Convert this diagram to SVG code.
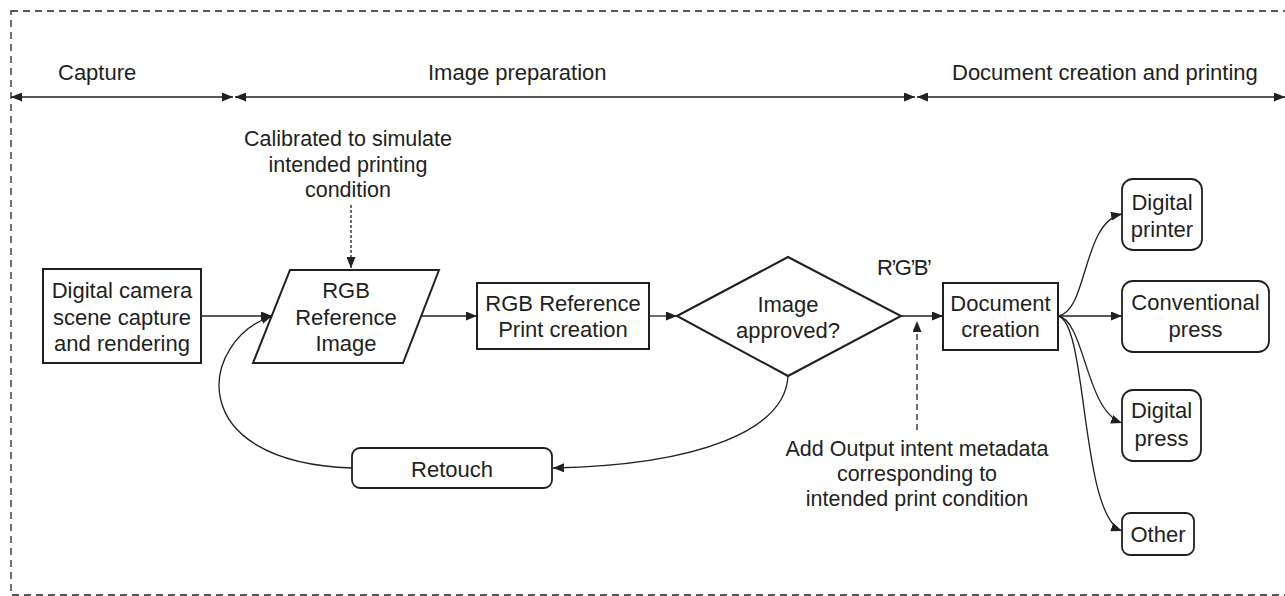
<svg xmlns="http://www.w3.org/2000/svg" width="1285" height="596" viewBox="0 0 1285 596">
  <style>
    text { font-family: "Liberation Sans", Arial, sans-serif; font-size: 22px; fill: #231f20; }
    .c { text-anchor: middle; }
    .note { font-size: 21.5px; }
    .box { fill: #fff; stroke: #231f20; stroke-width: 2; }
    .rbox { fill: #fff; stroke: #231f20; stroke-width: 1.8; }
    .ln { fill: none; stroke: #231f20; stroke-width: 1.3; }
    .dsh { fill: none; stroke: #231f20; stroke-width: 1.3; stroke-dasharray: 6 4; }
    .dsh2 { fill: none; stroke: #231f20; stroke-width: 1.3; stroke-dasharray: 3 2; }
    .frame { fill: none; stroke: #231f20; stroke-width: 1.3; stroke-dasharray: 7 5; }
  </style>
  <defs>
    <marker id="ah" viewBox="0 0 11 9" refX="11" refY="4.5" markerWidth="11" markerHeight="9" orient="auto-start-reverse" markerUnits="userSpaceOnUse">
      <path d="M0,0 L11,4.5 L0,9 z" fill="#231f20"/>
    </marker>
  </defs>

  <rect width="1285" height="596" fill="#fff"/>
  <!-- outer dashed frame -->
  <rect class="frame" x="11" y="11" width="1290" height="584"/>

  <!-- phase timeline -->
  <g id="timeline">
    <line class="ln" x1="11" y1="97" x2="233" y2="97" marker-start="url(#ah)" marker-end="url(#ah)"/>
    <line class="ln" x1="235" y1="97" x2="915" y2="97" marker-start="url(#ah)" marker-end="url(#ah)"/>
    <line class="ln" x1="917" y1="97" x2="1285" y2="97" marker-start="url(#ah)" marker-end="url(#ah)"/>
    <text x="58" y="80">Capture</text>
    <text x="428" y="80">Image preparation</text>
    <text x="952" y="80">Document creation and printing</text>
  </g>

  <!-- connectors -->
  <g id="connectors">
    <line class="ln" x1="201" y1="316" x2="272" y2="316" marker-end="url(#ah)"/>
    <line class="ln" x1="421" y1="316" x2="477" y2="316" marker-end="url(#ah)"/>
    <line class="ln" x1="649" y1="316" x2="677" y2="316" marker-end="url(#ah)"/>
    <line class="ln" x1="901" y1="316" x2="943" y2="316" marker-end="url(#ah)"/>
    <path class="ln" d="M788,376 C785,430 700,465 553,468" marker-end="url(#ah)"/>
    <path class="ln" d="M352,468 C180,462 200,340 272,316" marker-end="url(#ah)"/>
    <path class="ln" d="M1058,316 C1088,312 1082,222 1122,214" marker-end="url(#ah)"/>
    <line class="ln" x1="1058" y1="316" x2="1122" y2="316" marker-end="url(#ah)"/>
    <path class="ln" d="M1058,316 C1085,320 1085,410 1122,423" marker-end="url(#ah)"/>
    <path class="ln" d="M1058,316 C1088,322 1080,515 1122,531" marker-end="url(#ah)"/>
    <line class="dsh2" x1="351" y1="205" x2="351" y2="268" marker-end="url(#ah)"/>
    <line class="dsh" x1="917" y1="430" x2="917" y2="321" marker-end="url(#ah)"/>
  </g>

  <g id="camera">
    <rect class="box" x="43" y="269" width="158" height="94"/>
    <text class="c" x="122" y="298">Digital camera</text>
    <text class="c" x="122" y="325">scene capture</text>
    <text class="c" x="122" y="351">and rendering</text>
  </g>

  <g id="rgb-reference-image">
    <polygon class="box" points="290,270 439,270 403,363 253,363"/>
    <text class="c" x="346" y="298">RGB</text>
    <text class="c" x="346" y="325">Reference</text>
    <text class="c" x="346" y="351">Image</text>
  </g>

  <g id="reference-print">
    <rect class="box" x="477" y="283" width="172" height="66"/>
    <text class="c" x="563" y="311">RGB Reference</text>
    <text class="c" x="563" y="337">Print creation</text>
  </g>

  <g id="approval">
    <polygon class="box" points="677,316 788,257 901,316 788,376"/>
    <text class="c" x="788" y="312">Image</text>
    <text class="c" x="788" y="338">approved?</text>
  </g>

  <g id="retouch">
    <rect class="rbox" x="352" y="448" width="200" height="40" rx="8"/>
    <text class="c" x="452" y="477">Retouch</text>
  </g>

  <g id="document">
    <rect class="box" x="943" y="283" width="115" height="67"/>
    <text class="c" x="1000.5" y="311">Document</text>
    <text class="c" x="1000.5" y="337">creation</text>
  </g>

  <g id="digital-printer">
    <rect class="rbox" x="1122" y="179" width="80" height="71" rx="11"/>
    <text class="c" x="1162" y="210">Digital</text>
    <text class="c" x="1162" y="237">printer</text>
  </g>

  <g id="conventional-press">
    <rect class="rbox" x="1122" y="281" width="147" height="71" rx="11"/>
    <text class="c" x="1195.5" y="310">Conventional</text>
    <text class="c" x="1195.5" y="337">press</text>
  </g>

  <g id="digital-press">
    <rect class="rbox" x="1122" y="390" width="79" height="71" rx="11"/>
    <text class="c" x="1161.5" y="418">Digital</text>
    <text class="c" x="1161.5" y="446">press</text>
  </g>

  <g id="other">
    <rect class="rbox" x="1122" y="513" width="72" height="42" rx="8"/>
    <text class="c" x="1158" y="542">Other</text>
  </g>

  <!-- annotations -->
  <g id="calibration-note">
    <text class="c note" x="348" y="146">Calibrated to simulate</text>
    <text class="c note" x="348" y="172">intended printing</text>
    <text class="c note" x="348" y="197">condition</text>
  </g>
  <g id="output-intent-note">
    <text class="c note" x="917" y="456">Add Output intent metadata</text>
    <text class="c note" x="917" y="481">corresponding to</text>
    <text class="c note" x="917" y="506">intended print condition</text>
  </g>
  <text id="rgb-label" x="877" y="275" letter-spacing="-1.5">R’G’B’</text>
</svg>
